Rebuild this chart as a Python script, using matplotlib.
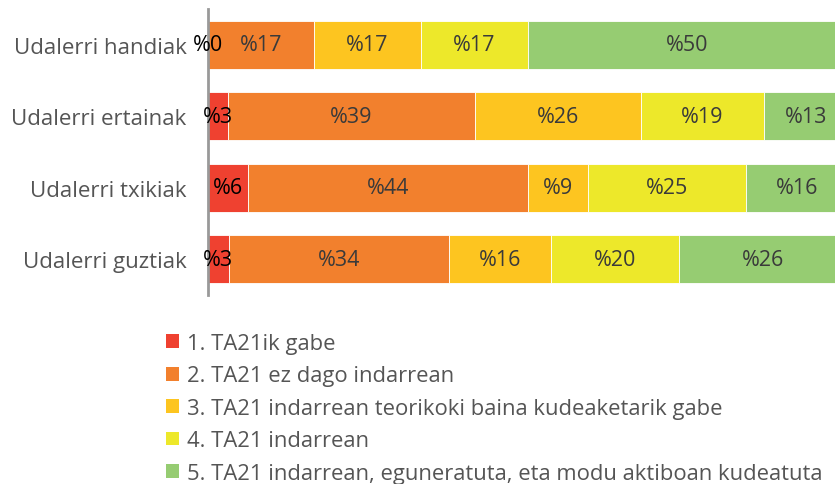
import numpy as np
import matplotlib
matplotlib.use("Agg")
import matplotlib.pyplot as plt
from matplotlib.patches import Patch

plt.rcParams['font.family'] = ['Open Sans', 'DejaVu Sans']

# categories (top to bottom)
categories = ['Udalerri handiak', 'Udalerri ertainak', 'Udalerri txikiak', 'Udalerri guztiak']

# percentage of each status per category
s1 = [0.0, 3.2, 6.3, 3.4]
s2 = [16.67, 38.6, 43.7, 34.3]
s3 = [16.67, 25.9, 9.4, 16.0]
s4 = [16.67, 19.3, 24.8, 20.0]
s5 = [50.0, 13.0, 15.8, 26.3]

series_names = [
    '1. TA21ik gabe',
    '2. TA21 ez dago indarrean',
    '3. TA21 indarrean teorikoki baina kudeaketarik gabe',
    '4. TA21 indarrean',
    '5. TA21 indarrean, eguneratuta, eta modu aktiboan kudeatuta',
]
colors = ['#EF4130', '#F2802D', '#FDC520', '#EDE82A', '#96CC72']

data = [s1, s2, s3, s4, s5]

fig = plt.figure(figsize=(8.35, 4.85), dpi=100)
# axes run past the right edge of the figure, like the original crop
ax = fig.add_axes([207.5 / 835, 1 - 296 / 485, 640 / 835, 286 / 485])

y = np.arange(len(categories))
left = np.zeros(len(categories))
for i, vals in enumerate(data):
    vals = np.array(vals)
    ax.barh(y, vals, left=left, height=0.67, color=colors[i],
            edgecolor='#ffffff', linewidth=0.6)
    for j, v in enumerate(vals):
        txt_color = 'black' if i == 0 else '#3a3a3a'
        ax.text(left[j] + v / 2, y[j], '%' + str(int(round(v))),
                ha='center', va='center', fontsize=15.5, color=txt_color)
    left += vals

ax.set_xlim(0, 100)
ax.set_ylim(3.5, -0.5)
ax.set_yticks(y)
ax.set_yticklabels(categories, fontsize=16, color='#555555')
ax.tick_params(axis='y', length=0, pad=15)
ax.set_xticks([])
for sp in ['top', 'right', 'bottom']:
    ax.spines[sp].set_visible(False)
ax.spines['left'].set_color('#999999')
ax.spines['left'].set_linewidth(2)

handles = [Patch(facecolor=c, edgecolor='none') for c in colors]
fig.legend(handles, series_names, loc='upper left',
           bbox_to_anchor=(166 / 835, 1 - 334 / 485), frameon=False,
           fontsize=15.8, labelcolor='#555555', handlelength=0.6,
           handleheight=0.6, handletextpad=0.35, labelspacing=0.52,
           borderpad=0, borderaxespad=0)

fig.savefig('out.png', dpi=100)
